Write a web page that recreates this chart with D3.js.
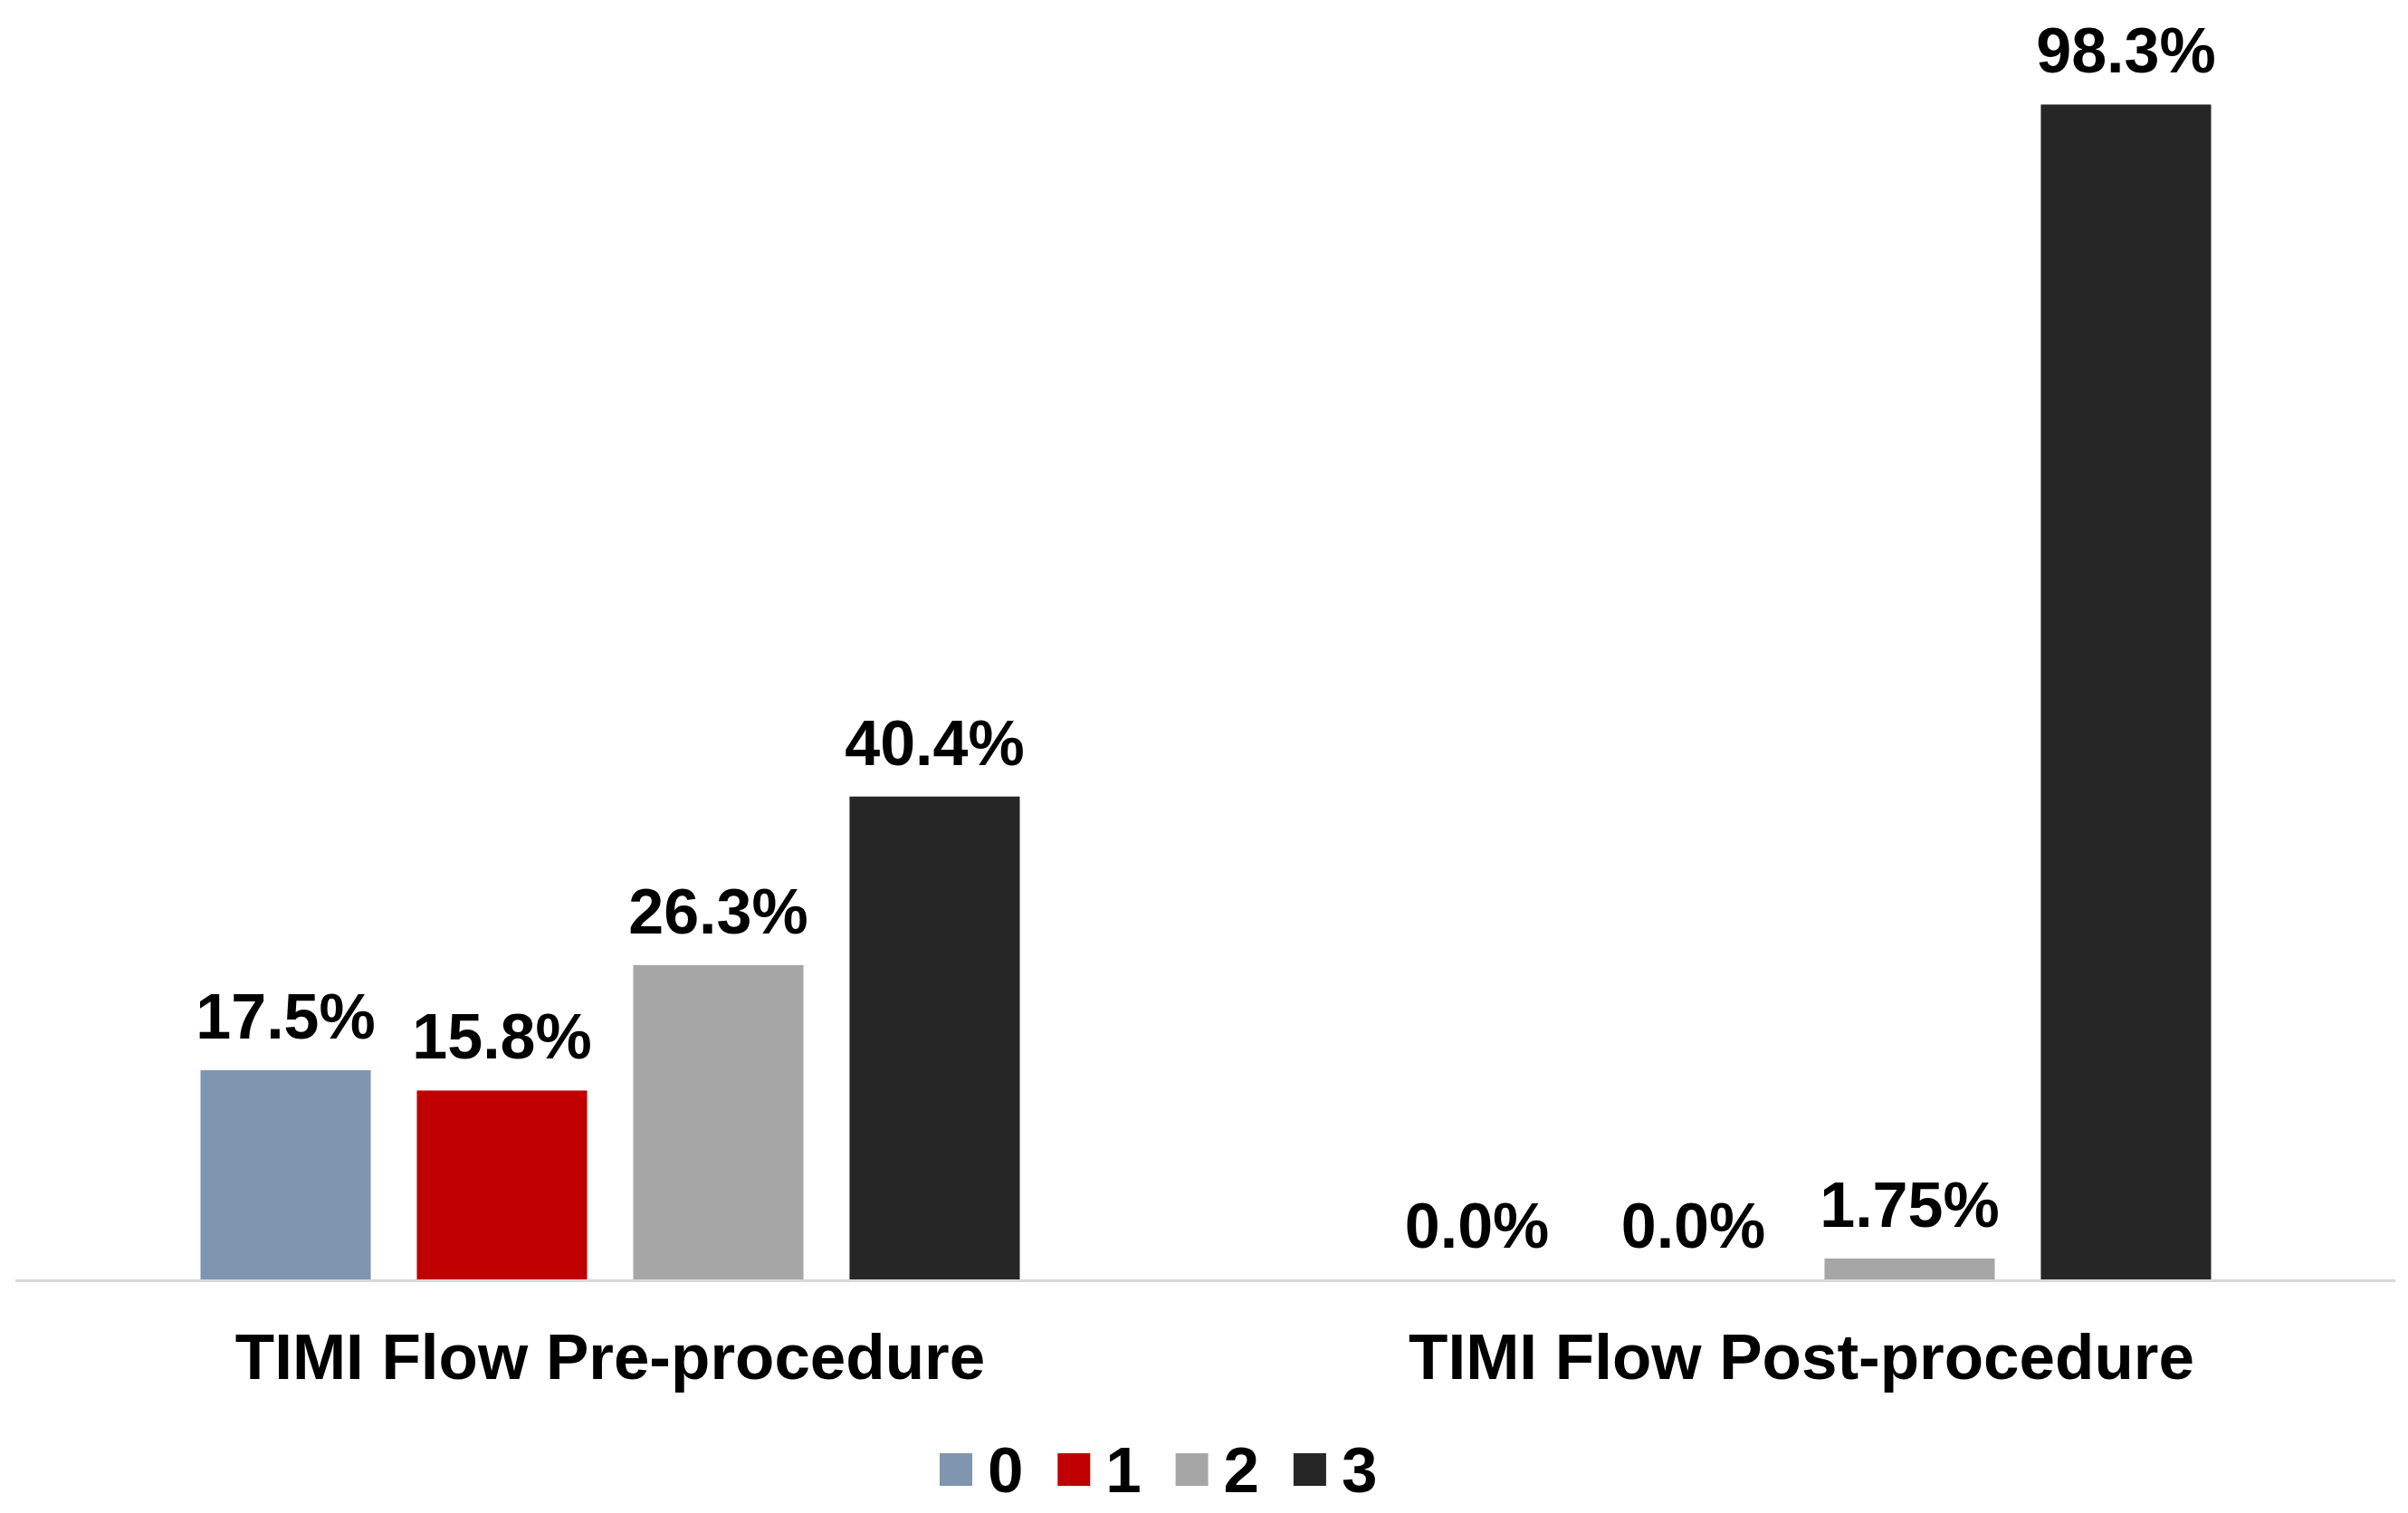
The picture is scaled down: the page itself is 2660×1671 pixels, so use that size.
<!DOCTYPE html>
<html>
<head>
<meta charset="utf-8">
<script src="https://cdn.jsdelivr.net/npm/d3@7"></script>
<style>
  html, body { margin: 0; padding: 0; background: #ffffff; }
  svg { display: block; }
  text { font-family: "Liberation Sans", Arial, sans-serif; font-weight: bold; fill: #000; }
</style>
</head>
<body>
<script>
const categories = ["TIMI Flow Pre-procedure", "TIMI Flow Post-procedure"];
const seriesKeys = ["0", "1", "2", "3"];
const valuesPre = [17.5, 15.8, 26.3, 40.4];
const valuesPost = [0.0, 0.0, 1.75, 98.3];
const labelsPre = ["17.5%", "15.8%", "26.3%", "40.4%"];
const labelsPost = ["0.0%", "0.0%", "1.75%", "98.3%"];
const colors = ["#7F95B0", "#C00000", "#A6A6A6", "#262626"];

const W = 2660, H = 1671;
const svg = d3.select("body").append("svg").attr("width", W).attr("height", H);

const table = categories.map((c, i) => ({
  cat: c,
  vals: (i === 0 ? valuesPre : valuesPost).map((v, j) => ({
    key: seriesKeys[j], v, label: (i === 0 ? labelsPre : labelsPost)[j]
  }))
}));

const x0 = d3.scaleBand().domain(categories).range([16, 2648]).padding(0);
const groupW = 905;
const x1 = d3.scaleBand().domain(seriesKeys)
  .range([(x0.bandwidth() - groupW) / 2, (x0.bandwidth() + groupW) / 2])
  .paddingInner(0.213).paddingOuter(0);
const y = d3.scaleLinear().domain([0, 100]).range([1413, 93]);
const color = d3.scaleOrdinal().domain(seriesKeys).range(colors);

// axis line
svg.append("line")
  .attr("x1", 17).attr("x2", 2646)
  .attr("y1", y(0) + 1.5).attr("y2", y(0) + 1.5)
  .attr("stroke", "#D9D9D9").attr("stroke-width", 3);

const g = svg.selectAll("g.cat").data(table).enter().append("g")
  .attr("class", "cat")
  .attr("transform", d => `translate(${x0(d.cat)},0)`);

g.selectAll("rect").data(d => d.vals).enter().append("rect")
  .attr("x", d => x1(d.key))
  .attr("width", x1.bandwidth())
  .attr("y", d => y(d.v))
  .attr("height", d => y(0) - y(d.v))
  .attr("fill", d => color(d.key));

g.selectAll("text.val").data(d => d.vals).enter().append("text")
  .attr("class", "val")
  .attr("x", d => x1(d.key) + x1.bandwidth() / 2)
  .attr("y", d => y(d.v) - 35)
  .attr("text-anchor", "middle")
  .attr("font-size", 70)
  .text(d => d.label);

// category labels
svg.selectAll("text.cat").data(categories).enter().append("text")
  .attr("class", "cat")
  .attr("x", d => x0(d) + x0.bandwidth() / 2)
  .attr("y", 1523)
  .attr("text-anchor", "middle")
  .attr("font-size", 71)
  .text(d => d);

// legend
const lx = d3.scaleBand().domain(seriesKeys).range([1038, 1038 + 4 * 130.3]);
const lg = svg.selectAll("g.leg").data(seriesKeys).enter().append("g")
  .attr("class", "leg")
  .attr("transform", d => `translate(${lx(d)},0)`);
lg.append("rect").attr("x", 0).attr("y", 1605).attr("width", 36).attr("height", 36)
  .attr("fill", d => color(d));
lg.append("text").attr("x", 53).attr("y", 1648).attr("font-size", 71).text(d => d);
</script>
</body>
</html>
